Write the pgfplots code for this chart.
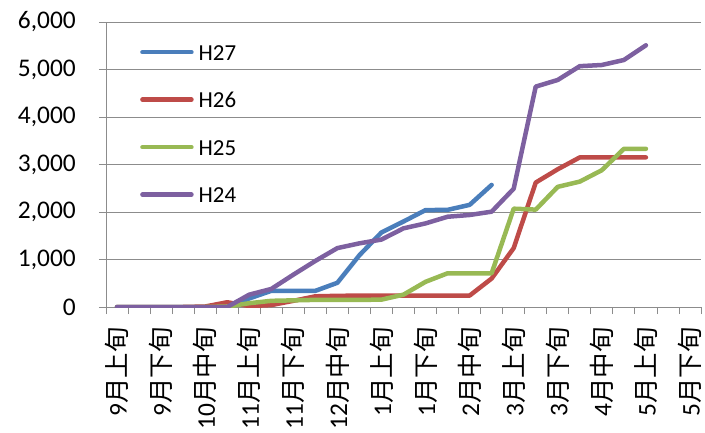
\documentclass[border=0pt]{standalone}
\usepackage{fontspec}
\setmainfont{Carlito}
\newfontfamily\cjk{Noto Sans CJK JP}
\usepackage{pgfplots}
\pgfplotsset{compat=1.18}

\definecolor{cH27}{RGB}{74,126,187}
\definecolor{cH26}{RGB}{190,75,72}
\definecolor{cH25}{RGB}{152,185,84}
\definecolor{cH24}{RGB}{125,96,160}
\definecolor{gridc}{RGB}{140,140,140}

% index 0 = 9月上旬 ... 26 = 5月下旬
\pgfplotstableread{
i  v
0  0
1  0
2  0
3  0
4  0
5  0
6  180
7  340
8  340
9  340
10 510
11 1090
12 1570
13 1800
14 2040
15 2045
16 2150
17 2570
}\hXXVII
\pgfplotstableread{
i  v
0  0
1  0
2  0
3  0
4  10
5  100
6  20
7  40
8  130
9  225
10 235
11 240
12 240
13 240
14 240
15 240
16 240
17 600
18 1240
19 2620
20 2900
21 3150
22 3150
23 3150
24 3150
}\hXXVI
\pgfplotstableread{
i  v
0  0
1  0
2  0
3  0
4  0
5  10
6  80
7  130
8  140
9  150
10 150
11 150
12 155
13 260
14 530
15 710
16 710
17 710
18 2070
19 2050
20 2530
21 2640
22 2880
23 3330
24 3330
}\hXXV
\pgfplotstableread{
i  v
0  0
1  0
2  0
3  0
4  0
5  0
6  260
7  380
8  680
9  970
10 1240
11 1340
12 1420
13 1656
14 1760
15 1900
16 1937
17 2007
18 2490
19 4640
20 4780
21 5070
22 5095
23 5200
24 5510
}\hXXIV

\begin{document}
\begin{tikzpicture}
\begin{axis}[
  at={(0,0)}, anchor=south west,
  scale only axis, width=595bp, height=285bp,
  xmin=-0.5, xmax=26.5, ymin=0, ymax=6000,
  axis lines*=left,
  axis line style={draw=gridc, line width=0.8bp, -},
  ymajorgrids, grid style={draw=gridc, line width=0.8bp},
  tick align=outside, major tick length=7bp,
  tick style={draw=gridc, line width=0.8bp},
  ytick={0,1000,...,6000},
  scaled y ticks=false,
  /pgf/number format/assume math mode=true,
  /pgf/number format/1000 sep={,},
  ticklabel style={font=\fontsize{25.5}{27}\selectfont},
  yticklabel style={inner sep=0pt, xshift=-23bp},
  xtick={-0.5,0.5,...,26.5},
  xticklabels={},
  extra x ticks={0,2,...,26},
  extra x tick style={major tick length=0pt},
  extra x tick labels={9{\cjk 月上旬},9{\cjk 月下旬},10{\cjk 月中旬},11{\cjk 月上旬},11{\cjk 月下旬},12{\cjk 月中旬},1{\cjk 月上旬},1{\cjk 月下旬},2{\cjk 月中旬},3{\cjk 月上旬},3{\cjk 月下旬},4{\cjk 月中旬},5{\cjk 月上旬},5{\cjk 月下旬}},
  xticklabel style={rotate=90, anchor=east, inner sep=0pt, xshift=-20bp},
  legend style={draw=none, fill=none, inner sep=0pt,
    at={(axis description cs:0,1)}, anchor=north west, xshift=34bp, yshift=-22bp,
    font=\fontsize{23}{24}\selectfont, row sep=31.5bp, column sep=5bp,
    nodes={inner sep=0pt, text height=16bp, text depth=0bp}},
  legend cell align=left,
  legend image code/.code={\draw[#1] (0bp,0bp) -- (49bp,0bp);},
  every axis plot/.append style={line width=4.5bp, line cap=round, line join=round, no markers},
]
\addplot[cH27] table[x=i,y=v] {\hXXVII};
\addlegendentry{H27}
\addplot[cH26] table[x=i,y=v] {\hXXVI};
\addlegendentry{H26}
\addplot[cH25] table[x=i,y=v] {\hXXV};
\addlegendentry{H25}
\addplot[cH24] table[x=i,y=v] {\hXXIV};
\addlegendentry{H24}
\end{axis}
\pgfresetboundingbox
\useasboundingbox (-106bp,-126bp) rectangle (599bp,307bp);
\end{tikzpicture}
\end{document}
